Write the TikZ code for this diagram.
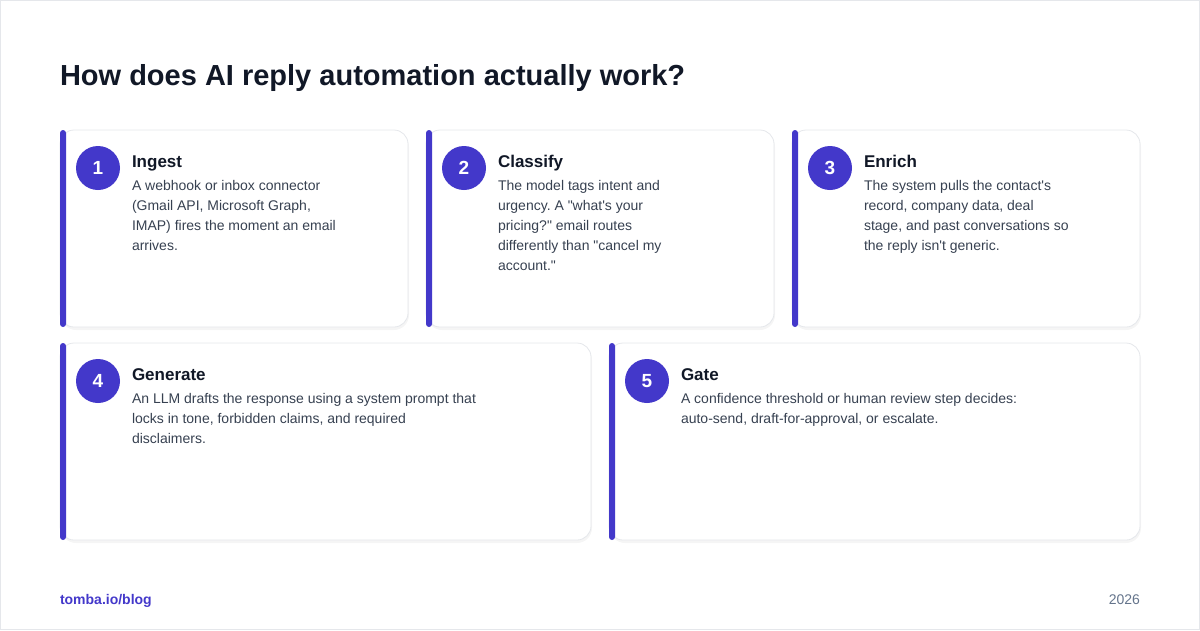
\documentclass[tikz,border=0pt]{standalone}
\usepackage{fontspec}
\setmainfont{Liberation Sans}[Ligatures=TeXOff]
\usetikzlibrary{positioning}
\definecolor{indigo}{HTML}{4338CA}
\definecolor{ink}{HTML}{111827}
\definecolor{slate}{HTML}{374151}
\definecolor{muted}{HTML}{64748B}
\definecolor{edge}{HTML}{E5E7EB}
\frenchspacing
\begin{document}
\begin{tikzpicture}[x=1pt,y=-1pt,
 every node/.style={inner sep=0pt,outer sep=0pt},
 card/.style={draw=edge,fill=white,line width=0.8pt,rounded corners=14pt},
 shade/.style={fill=black!4,rounded corners=15pt},
 bar/.style={fill=indigo,rounded corners=3pt},
 num/.style={circle,fill=indigo,minimum size=44pt,text=white,font=\fontsize{19}{19}\selectfont\bfseries},
 head/.style={anchor=base west,text=ink,font=\fontsize{17}{20}\selectfont\bfseries},
 body/.style={anchor=north west,align=left,text=slate,font=\fontsize{14}{20}\selectfont}]
  \useasboundingbox (0,0) rectangle (1200,630);
  \draw[edge,line width=1pt] (0.5,0.5) rectangle (1199.5,629.5);
  \node[anchor=base west,text=ink,font=\fontsize{29}{34}\selectfont\bfseries] (title) at (60,85)
    {How does AI reply automation actually work?};
  % cards
  \foreach \xa/\ya/\xb/\yb in {60/130/408/327,426/130/774/327,792/130/1140/327,60/343/591/540,609/343/1140/540}{
    \fill[shade] (\xa+1,\ya+2) rectangle (\xb+1,\yb+3);
    \draw[card] (\xa,\ya) rectangle (\xb,\yb);
    \fill[bar] (\xa,\ya) rectangle (\xa+6,\yb);
  }
  % step 1
  \node[num] (n1) at (98,168) {1};
  \node[head] (t1) at (132,167) {Ingest};
  \node[body] (b1) at (132,180) {A webhook or inbox connector\\(Gmail API, Microsoft Graph,\\IMAP) fires the moment an email\\arrives.};
  % step 2
  \node[num] (n2) at (464,168) {2};
  \node[head] (t2) at (498,167) {Classify};
  \node[body] (b2) at (498,180) {The model tags intent and\\urgency. A "what's your\\pricing?" email routes\\differently than "cancel my\\account."};
  % step 3
  \node[num] (n3) at (830,168) {3};
  \node[head] (t3) at (864,167) {Enrich};
  \node[body] (b3) at (864,180) {The system pulls the contact's\\record, company data, deal\\stage, and past conversations so\\the reply isn't generic.};
  % step 4
  \node[num] (n4) at (98,381) {4};
  \node[head] (t4) at (132,380) {Generate};
  \node[body] (b4) at (132,393) {An LLM drafts the response using a system prompt that\\locks in tone, forbidden claims, and required\\disclaimers.};
  % step 5
  \node[num] (n5) at (647,381) {5};
  \node[head] (t5) at (681,380) {Gate};
  \node[body] (b5) at (681,393) {A confidence threshold or human review step decides:\\auto-send, draft-for-approval, or escalate.};
  % footer
  \node[anchor=base west,text=indigo,font=\fontsize{14}{16}\selectfont\bfseries] (site) at (60,604) {tomba.io/blog};
  \node[anchor=base east,text=muted,font=\fontsize{14}{16}\selectfont] (year) at (1140,604) {2026};
\end{tikzpicture}
\end{document}
